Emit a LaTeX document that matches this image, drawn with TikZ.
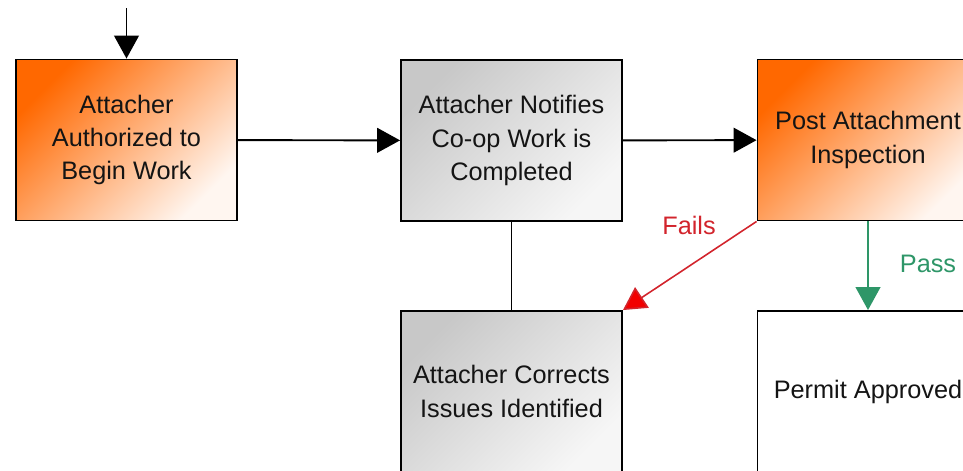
\documentclass[tikz,border=0pt]{standalone}
\usepackage{fontspec}
\setmainfont{Liberation Sans}
\usetikzlibrary{arrows.meta}
\definecolor{boxorange}{RGB}{255,104,0}
\definecolor{midorange}{RGB}{250,162,105}
\definecolor{paleorange}{RGB}{255,246,240}
\definecolor{boxgray}{RGB}{200,200,200}
\definecolor{midgray}{RGB}{224,224,224}
\definecolor{palegray}{RGB}{246,246,246}
\definecolor{failred}{RGB}{210,36,44}
\definecolor{passgreen}{RGB}{46,150,104}
\tikzset{
  box/.style={draw, line width=1.1pt, minimum width=4.42cm, minimum height=3.22cm,
    align=center, text=black!92, font=\fontsize{14.4pt}{19pt}\selectfont},
  orangebox/.style={box, top color=boxorange, middle color=midorange, bottom color=paleorange, shading angle=45},
  graybox/.style={box, top color=boxgray, middle color=midgray, bottom color=palegray, shading angle=45},
  flow/.style={line width=1.1pt, -{Triangle[width=14pt,length=13pt]}}
}
\begin{document}
\begin{tikzpicture}[x=0.02cm, y=-0.02cm]
        \useasboundingbox (0,0) rectangle (963,470);
        \clip (0,0) rectangle (963,470);
        \node[orangebox] (auth) at (126.5,140) {Attacher\\Authorized to\\Begin Work};
        \node[graybox] (notify) at (511.5,140.5) {Attacher Notifies\\Co-op Work is\\Completed};
        \node[orangebox] (inspect) at (868,140) {Post Attachment\\Inspection};
        \node[graybox] (corrects) at (511.5,391.5) {Attacher Corrects\\Issues Identified};
        \node[box, fill=white] (permit) at (868,391.5) {Permit Approved};
        \coordinate (start) at (126.5,8);
        \draw[flow] (start) -- (auth);
        \draw[flow] (auth) -- (notify);
        \draw[flow] (notify) -- (inspect);
        \draw[line width=1.1pt] (notify) -- (corrects);
        \draw[flow, line width=0.9pt, failred, -{Triangle[width=14pt,length=13pt,fill=red!95!black]}] (inspect.south west) -- (corrects.north east);
        \draw[flow, passgreen] (inspect) -- (permit);
        \node[text=failred, font=\fontsize{14.4pt}{18pt}\selectfont] (fails) at (689,225) {Fails};
        \node[text=passgreen, font=\fontsize{14.4pt}{18pt}\selectfont] (pass) at (928,264) {Pass};
    \end{tikzpicture}
\end{document}
